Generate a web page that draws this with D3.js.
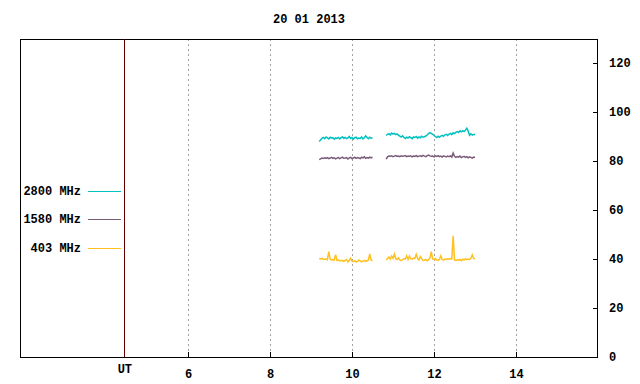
<!DOCTYPE html>
<html><head><meta charset="utf-8">
<script src="https://cdn.jsdelivr.net/npm/d3@7"></script>
<style>body{margin:0;background:#fff}svg text{font-family:"Liberation Mono","DejaVu Sans Mono",monospace;font-weight:bold;font-size:12px;fill:#000}</style>
</head><body><svg id="c" width="640" height="384"></svg>
<script>
const title = "20 01 2013";
const xTicks = [6, 8, 10, 12, 14];
const yTicks = [0, 20, 40, 60, 80, 100, 120];
const utMark = 4.46;
const seriesNames = ["2800 MHz", "1580 MHz", "403 MHz"];
const seriesColors = ["#00c0c0", "#7a5c7a", "#ffc020"];
// segment start times (hours UT), 2-minute sampling
const seg1Start = 9.2, seg2Start = 10.8333, stepH = 2 / 60;
const s2800a = [88.0,88.6,89.3,89.6,89.1,89.8,89.4,89.0,89.7,89.3,89.5,88.9,89.4,89.2,89.6,89.0,89.5,89.8,89.3,89.6,89.1,89.4,90.0,89.2,89.6,88.9,89.5,89.7,89.1,89.4,89.2,89.8,89.0,89.5,90.2,89.6,89.1,89.7,89.3,89.5];
const s2800b = [90.4,90.9,91.2,90.7,91.4,91.0,91.3,90.8,91.1,90.5,90.2,89.8,90.3,89.6,89.2,89.7,89.4,89.9,89.5,89.1,89.8,89.6,90.0,89.3,89.8,89.5,90.1,89.7,89.9,90.2,90.6,91.2,91.6,91.3,90.9,90.4,90.0,89.6,90.1,89.7,90.2,90.5,90.1,90.7,90.9,90.4,91.0,91.3,90.8,91.5,91.2,91.7,92.0,91.6,92.3,91.9,92.4,92.0,92.6,93.4,92.2,90.5,91.1,90.6,90.9,90.7];
const s1580a = [80.6,80.9,81.2,81.0,81.3,81.1,81.4,81.0,81.2,81.5,81.1,81.3,80.9,81.2,81.4,81.0,81.3,81.6,81.1,81.2,81.4,80.8,81.3,81.5,81.0,81.2,81.6,81.1,81.4,81.2,81.0,81.5,81.3,81.7,81.1,81.4,81.2,81.6,81.3,81.5];
const s1580b = [80.8,81.7,82.0,81.9,82.1,81.8,82.0,82.2,81.9,82.0,81.8,82.1,81.9,82.0,82.2,81.8,82.0,81.9,82.1,81.7,82.0,81.9,82.2,81.8,82.0,82.1,81.9,82.3,82.0,81.8,82.2,82.4,82.1,81.9,82.0,81.7,82.1,81.9,82.2,81.8,82.0,81.6,82.1,81.9,81.7,82.0,81.8,82.1,81.6,83.2,81.9,81.5,81.8,81.6,82.0,81.4,81.7,81.9,81.5,81.8,81.3,81.7,81.5,81.2,81.6,81.4];
const s403a = [40.2,40.0,40.3,39.8,39.9,40.1,39.7,43.0,40.0,39.6,39.8,39.5,41.8,39.4,39.6,39.2,39.5,39.3,39.0,39.4,39.8,38.8,39.5,40.3,39.1,38.9,39.3,38.7,39.0,39.6,39.2,38.8,39.1,39.4,39.0,39.3,39.6,42.1,39.5,39.2];
const s403b = [39.6,40.2,40.8,39.9,41.2,40.3,42.0,40.1,39.8,40.5,39.6,39.3,39.7,40.2,40.0,41.3,39.8,41.2,40.1,39.9,40.4,40.2,41.9,40.3,39.6,41.0,40.1,39.4,39.5,39.8,39.3,39.7,40.4,43.0,40.0,39.8,40.2,39.6,39.4,39.9,41.3,39.7,39.5,40.0,39.8,40.1,39.9,40.2,40.0,49.5,39.6,39.4,39.7,39.5,39.8,39.3,39.9,39.6,40.1,39.7,40.0,39.8,40.3,41.7,40.2,40.1];

const svg = d3.select("#c");
const L = 20, R = 598, T = 39, B = 357;
const x = d3.scaleLinear().domain([1.902, 16]).range([L, R]);
const y = d3.scaleLinear().domain([0, 129.8]).range([B, T]);

svg.append("text").attr("x", 309).attr("y", 23).attr("text-anchor", "middle").text(title);

// grid
svg.append("g").selectAll("line").data(xTicks).join("line")
  .attr("x1", d => x(d)).attr("x2", d => x(d)).attr("y1", T).attr("y2", B)
  .attr("stroke", "#a0a0a0").attr("stroke-dasharray", "2,3").attr("shape-rendering", "crispEdges");

// series
const toPts = (arr, t0) => arr.map((v, i) => [t0 + i * stepH, v]);
const line = d3.line().x(d => x(d[0])).y(d => y(d[1]));
const segs = [[s2800a, s2800b], [s1580a, s1580b], [s403a, s403b]];
segs.forEach((pair, k) => {
  [[pair[0], seg1Start], [pair[1], seg2Start]].forEach(([arr, t0]) => {
    svg.append("path").attr("d", line(toPts(arr, t0))).attr("fill", "none")
      .attr("stroke", seriesColors[k]).attr("stroke-width", 1.5);
  });
});

// frame
svg.append("rect").attr("x", L + 0.5).attr("y", T + 0.5).attr("width", R - L - 1).attr("height", B - T)
  .attr("fill", "none").attr("stroke", "#000").attr("shape-rendering", "crispEdges");
svg.append("line").attr("x1", x(utMark)).attr("x2", x(utMark)).attr("y1", T).attr("y2", B)
  .attr("stroke", "#600000").attr("shape-rendering", "crispEdges");

// x axis ticks (inward)
const xa = d3.axisBottom(x).tickValues(xTicks).tickSize(-5).tickPadding(10).tickFormat(d3.format("d"));
const gx = svg.append("g").attr("transform", `translate(0,${B})`).call(xa);
gx.select(".domain").remove();
gx.selectAll("line").attr("stroke", "#000");
gx.selectAll("text").attr("font-size", null).attr("font-family", null).attr("dy", "0.9em");
svg.append("text").attr("x", x(utMark)).attr("y", 373).attr("text-anchor", "middle").text("UT");

// y axis right (inward)
const ya = d3.axisRight(y).tickValues(yTicks).tickSize(-5).tickPadding(11);
const gy = svg.append("g").attr("transform", `translate(${R},0)`).call(ya);
gy.select(".domain").remove();
gy.selectAll("line").attr("stroke", "#000");
gy.selectAll("text").attr("font-size", null).attr("font-family", null);

// legend
const ly = [191, 219, 248];
seriesNames.forEach((n, i) => {
  svg.append("text").attr("x", 81).attr("y", ly[i]).attr("dy", "0.35em").attr("text-anchor", "end").text(n);
  svg.append("line").attr("x1", 88).attr("x2", 121).attr("y1", ly[i] + 0.5).attr("y2", ly[i] + 0.5)
    .attr("stroke", seriesColors[i]);
});
</script></body></html>
